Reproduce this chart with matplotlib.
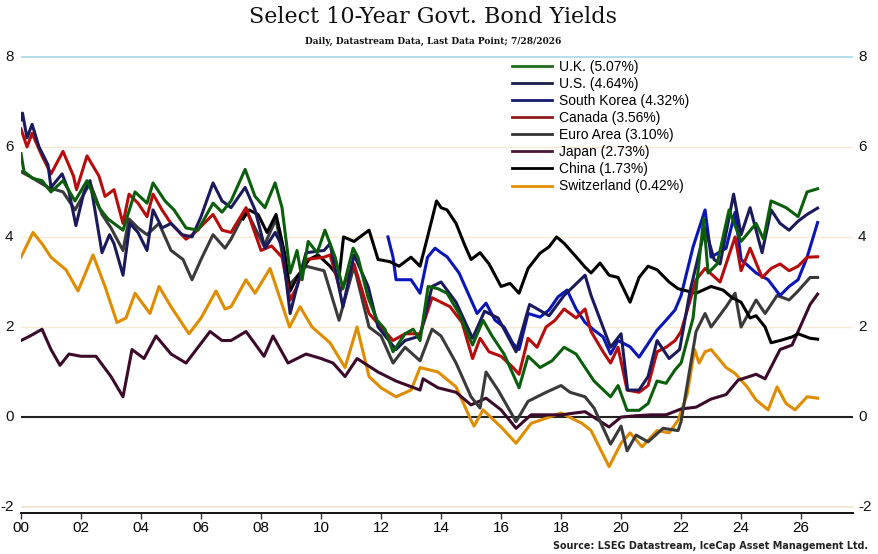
import matplotlib
matplotlib.use("Agg")
import matplotlib.pyplot as plt
from matplotlib.lines import Line2D

# ---------------- data (decimal years, % yields) ----------------
us_t = [2000.0, 2000.05, 2000.2, 2000.37, 2000.6, 2000.9, 2001.0, 2001.37, 2001.6, 2001.83, 2002.1, 2002.3,
        2002.7, 2002.95, 2003.1, 2003.4, 2003.63, 2003.9, 2004.2, 2004.4, 2004.7, 2005.0, 2005.37, 2005.7,
        2006.0, 2006.4, 2006.7, 2007.0, 2007.47, 2007.8, 2008.13, 2008.47, 2008.7, 2008.97, 2009.2, 2009.5,
        2010.1, 2010.3, 2010.73, 2011.1, 2011.57, 2011.9, 2012.5, 2012.8, 2013.3, 2013.7, 2014.0, 2014.5,
        2015.05, 2015.45, 2015.9, 2016.5, 2016.95, 2017.6, 2018.1, 2018.8, 2019.0, 2019.65, 2020.0, 2020.22,
        2020.6, 2020.9, 2021.2, 2021.6, 2021.95, 2022.3, 2022.8, 2023.1, 2023.3, 2023.75, 2024.0, 2024.3,
        2024.7, 2025.0, 2025.3, 2025.6, 2025.9, 2026.2, 2026.55]
us_v = [6.6, 6.75, 6.2, 6.5, 6.0, 5.6, 5.1, 5.4, 5.0, 4.25, 5.0, 5.25,
        3.65, 4.05, 3.85, 3.15, 4.3, 4.1, 3.7, 4.6, 4.2, 4.3, 4.05, 4.0,
        4.45, 5.2, 4.8, 4.65, 5.1, 4.6, 3.75, 4.1, 3.8, 2.3, 2.9, 3.65,
        3.7, 3.85, 2.45, 3.6, 2.9, 2.0, 1.5, 1.7, 1.8, 2.9, 3.0, 2.55,
        1.75, 2.35, 2.2, 1.45, 2.5, 2.25, 2.7, 3.15, 2.7, 1.55, 1.85, 0.6,
        0.6, 0.9, 1.7, 1.3, 1.5, 2.8, 4.2, 3.5, 3.4, 4.95, 4.05, 4.65,
        3.65, 4.6, 4.3, 4.15, 4.35, 4.5, 4.64]

uk_t = [2000.0, 2000.1, 2000.4, 2000.7, 2001.0, 2001.4, 2001.8, 2002.2, 2002.6, 2002.9, 2003.4, 2003.8,
        2004.2, 2004.4, 2004.8, 2005.1, 2005.5, 2005.9, 2006.4, 2006.7, 2007.0, 2007.47, 2007.8, 2008.13,
        2008.47, 2008.7, 2008.97, 2009.2, 2009.37, 2009.57, 2009.87, 2010.13, 2010.47, 2010.73, 2011.07,
        2011.23, 2011.57, 2011.87, 2012.13, 2012.4, 2012.8, 2013.07, 2013.3, 2013.57, 2013.9, 2014.2,
        2014.6, 2015.05, 2015.4, 2015.7, 2016.1, 2016.4, 2016.6, 2016.9, 2017.3, 2017.7, 2018.1, 2018.5,
        2018.8, 2019.1, 2019.65, 2019.9, 2020.2, 2020.6, 2020.9, 2021.2, 2021.5, 2021.8, 2022.0, 2022.4,
        2022.75, 2022.9, 2023.2, 2023.6, 2024.0, 2024.5, 2024.75, 2025.0, 2025.5, 2025.9, 2026.2, 2026.55]
uk_v = [5.85, 5.45, 5.3, 5.25, 5.0, 5.25, 4.8, 5.25, 4.65, 4.4, 4.15, 5.0,
        4.75, 5.2, 4.8, 4.6, 4.2, 4.15, 4.75, 4.55, 4.8, 5.5, 4.9, 4.65,
        5.2, 4.65, 3.2, 3.7, 3.05, 3.9, 3.65, 4.15, 3.55, 2.85, 3.75,
        3.55, 2.65, 2.15, 1.95, 1.45, 1.85, 1.95, 1.7, 2.9, 2.85, 2.75,
        2.3, 1.6, 2.15, 1.8, 1.4, 0.95, 0.65, 1.35, 1.1, 1.25, 1.55, 1.4,
        1.1, 0.8, 0.45, 0.7, 0.15, 0.15, 0.3, 0.8, 0.75, 1.05, 1.2, 2.2,
        4.4, 3.2, 3.4, 4.6, 3.9, 4.3, 3.95, 4.8, 4.65, 4.45, 5.0, 5.07]

kr_t = [2012.23, 2012.4, 2012.5, 2013.0, 2013.3, 2013.55, 2013.8, 2014.0, 2014.2, 2014.6, 2014.9, 2015.2,
        2015.5, 2015.8, 2016.1, 2016.4, 2016.6, 2016.9, 2017.3, 2017.6, 2017.9, 2018.2, 2018.5, 2018.8,
        2019.1, 2019.4, 2019.65, 2019.9, 2020.3, 2020.6, 2020.9, 2021.2, 2021.5, 2021.8, 2022.0, 2022.4,
        2022.8, 2023.0, 2023.5, 2023.8, 2024.0, 2024.5, 2024.9, 2025.3, 2025.6, 2025.9, 2026.2, 2026.55]
kr_v = [4.0, 3.55, 3.05, 3.05, 2.75, 3.55, 3.75, 3.65, 3.56, 3.2, 2.75, 2.3,
        2.53, 2.15, 2.0, 1.63, 1.5, 2.3, 2.22, 2.38, 2.67, 2.82, 2.4, 2.1,
        1.93, 1.78, 1.4, 1.7, 1.56, 1.33, 1.63, 1.93, 2.15, 2.38, 2.7, 3.78,
        4.6, 3.55, 3.75, 4.55, 3.5, 3.2, 3.05, 2.7, 2.9, 3.05, 3.55, 4.32]

ca_t = [2000.0, 2000.2, 2000.37, 2000.7, 2001.0, 2001.4, 2001.75, 2001.85, 2002.2, 2002.6, 2002.8, 2003.1,
        2003.4, 2003.6, 2003.9, 2004.2, 2004.4, 2004.7, 2005.0, 2005.5, 2005.8, 2006.4, 2006.7, 2007.0,
        2007.5, 2008.0, 2008.35, 2008.7, 2008.97, 2009.2, 2009.5, 2010.1, 2010.3, 2010.65, 2011.1, 2011.6,
        2012.0, 2012.4, 2012.8, 2013.3, 2013.7, 2014.0, 2014.3, 2014.7, 2015.05, 2015.3, 2015.6, 2016.0,
        2016.4, 2016.6, 2016.9, 2017.2, 2017.5, 2017.8, 2018.1, 2018.5, 2018.8, 2019.0, 2019.4, 2019.65,
        2019.9, 2020.2, 2020.6, 2020.9, 2021.2, 2021.5, 2021.8, 2022.0, 2022.5, 2022.8, 2023.3, 2023.8,
        2024.0, 2024.3, 2024.7, 2025.0, 2025.3, 2025.6, 2025.9, 2026.2, 2026.55]
ca_v = [6.4, 6.0, 6.3, 5.8, 5.4, 5.9, 5.35, 5.05, 5.8, 5.35, 4.9, 5.05,
        4.3, 4.95, 4.75, 4.45, 4.95, 4.6, 4.3, 3.95, 4.1, 4.5, 4.15, 4.1,
        4.65, 3.7, 3.8, 3.55, 2.6, 2.9, 3.5, 3.55, 3.6, 2.8, 3.4, 2.3,
        2.0, 1.7, 1.85, 1.85, 2.65, 2.55, 2.45, 2.1, 1.3, 1.75, 1.45, 1.35,
        1.1, 0.95, 1.75, 1.55, 2.0, 2.15, 2.4, 2.2, 2.4, 1.9, 1.45, 1.2,
        1.55, 0.6, 0.55, 0.7, 1.45, 1.55, 1.7, 1.9, 3.05, 3.3, 3.0, 4.0,
        3.25, 3.75, 3.1, 3.3, 3.4, 3.25, 3.35, 3.55, 3.56]

eu_t = [2000.0, 2000.4, 2000.9, 2001.4, 2001.8, 2002.3, 2002.7, 2003.0, 2003.4, 2003.6, 2003.9, 2004.2,
        2004.6, 2005.0, 2005.4, 2005.7, 2006.0, 2006.4, 2006.8, 2007.0, 2007.5, 2008.1, 2008.5, 2008.9,
        2009.5, 2010.1, 2010.6, 2011.1, 2011.6, 2012.0, 2012.4, 2012.8, 2013.3, 2013.7, 2014.0, 2014.5,
        2015.0, 2015.3, 2015.5, 2015.9, 2016.5, 2016.9, 2017.5, 2018.0, 2018.3, 2018.8, 2019.1, 2019.65,
        2020.0, 2020.2, 2020.5, 2020.9, 2021.4, 2021.9, 2022.0, 2022.5, 2022.8, 2023.0, 2023.5, 2023.8,
        2024.0, 2024.5, 2024.8, 2025.2, 2025.6, 2025.9, 2026.3, 2026.55]
eu_v = [5.45, 5.3, 5.1, 5.0, 4.6, 5.2, 4.5, 4.2, 3.7, 4.4, 4.2, 4.05,
        4.3, 3.7, 3.5, 3.05, 3.5, 4.05, 3.75, 3.95, 4.6, 3.8, 4.4, 2.9,
        3.35, 3.25, 2.15, 3.35, 2.0, 1.8, 1.2, 1.55, 1.25, 1.95, 1.8, 1.2,
        0.45, 0.2, 1.0, 0.6, -0.1, 0.35, 0.55, 0.7, 0.55, 0.45, 0.2, -0.6,
        -0.2, -0.75, -0.4, -0.55, -0.25, -0.3, -0.1, 1.9, 2.3, 2.0, 2.45, 2.75,
        2.0, 2.6, 2.3, 2.7, 2.6, 2.8, 3.1, 3.10]

jp_t = [2000.0, 2000.3, 2000.7, 2001.0, 2001.3, 2001.6, 2002.0, 2002.5, 2003.0, 2003.4, 2003.7, 2004.1,
        2004.5, 2005.0, 2005.5, 2006.3, 2006.7, 2007.0, 2007.5, 2008.1, 2008.4, 2008.9, 2009.5, 2010.0,
        2010.4, 2010.8, 2011.2, 2011.9, 2012.5, 2013.3, 2013.4, 2013.9, 2014.5, 2015.0, 2015.5, 2016.0,
        2016.5, 2017.0, 2018.0, 2018.8, 2019.6, 2020.0, 2020.5, 2021.0, 2021.5, 2022.0, 2022.5, 2023.0,
        2023.5, 2023.9, 2024.5, 2024.8, 2025.3, 2025.7, 2026.0, 2026.3, 2026.55]
jp_v = [1.7, 1.8, 1.95, 1.5, 1.15, 1.4, 1.35, 1.35, 0.9, 0.45, 1.5, 1.3,
        1.8, 1.4, 1.2, 1.9, 1.7, 1.7, 1.9, 1.35, 1.8, 1.2, 1.4, 1.3,
        1.2, 0.9, 1.3, 1.0, 0.8, 0.6, 0.85, 0.65, 0.55, 0.27, 0.42, 0.16,
        -0.25, 0.05, 0.05, 0.12, -0.22, 0.0, 0.03, 0.05, 0.05, 0.18, 0.22, 0.4,
        0.5, 0.82, 0.95, 0.85, 1.5, 1.6, 2.05, 2.5, 2.73]

cn_t = [2007.4, 2007.6, 2007.9, 2008.2, 2008.5, 2008.8, 2008.97, 2009.2, 2009.6, 2009.9, 2010.3, 2010.6,
        2010.75, 2011.1, 2011.6, 2011.9, 2012.3, 2012.6, 2013.0, 2013.3, 2013.55, 2013.85, 2014.0, 2014.2,
        2014.5, 2014.8, 2015.0, 2015.3, 2015.6, 2016.0, 2016.3, 2016.6, 2016.9, 2017.3, 2017.6, 2017.85,
        2018.1, 2018.5, 2018.8, 2019.0, 2019.3, 2019.6, 2019.9, 2020.3, 2020.6, 2020.9, 2021.2, 2021.6,
        2021.9, 2022.5, 2023.0, 2023.4, 2023.7, 2024.0, 2024.3, 2024.5, 2024.8, 2025.0, 2025.3, 2025.7,
        2025.9, 2026.3, 2026.55]
cn_v = [4.4, 4.6, 4.5, 4.1, 4.5, 3.6, 2.8, 3.1, 3.5, 3.6, 3.35, 3.1,
        4.0, 3.9, 4.15, 3.5, 3.45, 3.35, 3.55, 3.35, 4.0, 4.8, 4.65, 4.6,
        4.3, 3.8, 3.5, 3.65, 3.4, 2.9, 2.97, 2.75, 3.3, 3.64, 3.78, 4.0,
        3.86, 3.56, 3.33, 3.2, 3.42, 3.15, 3.1, 2.55, 3.1, 3.35, 3.27, 3.0,
        2.85, 2.75, 2.9, 2.82, 2.65, 2.55, 2.2, 2.25, 2.0, 1.65, 1.7, 1.78,
        1.85, 1.75, 1.73]

ch_t = [2000.0, 2000.4, 2000.7, 2001.0, 2001.5, 2001.9, 2002.4, 2002.8, 2003.2, 2003.5, 2003.8, 2004.3,
        2004.6, 2005.0, 2005.6, 2006.0, 2006.5, 2006.8, 2007.0, 2007.5, 2007.8, 2008.3, 2008.6, 2008.95,
        2009.3, 2009.7, 2010.3, 2010.8, 2011.2, 2011.6, 2012.0, 2012.5, 2013.0, 2013.3, 2013.9, 2014.5,
        2015.0, 2015.1, 2015.4, 2016.0, 2016.5, 2017.0, 2018.0, 2018.7, 2019.0, 2019.6, 2020.0, 2020.3,
        2020.7, 2021.2, 2021.6, 2021.9, 2022.2, 2022.45, 2022.6, 2022.8, 2023.0, 2023.5, 2023.8, 2024.2,
        2024.5, 2024.9, 2025.2, 2025.5, 2025.8, 2026.2, 2026.55]
ch_v = [3.55, 4.1, 3.85, 3.55, 3.27, 2.8, 3.6, 2.9, 2.1, 2.2, 2.75, 2.3,
        2.9, 2.45, 1.85, 2.2, 2.8, 2.4, 2.45, 3.05, 2.75, 3.3, 2.7, 2.0,
        2.45, 2.0, 1.65, 1.1, 2.0, 0.9, 0.65, 0.45, 0.6, 1.1, 1.0, 0.67,
        -0.07, -0.2, 0.16, -0.22, -0.58, -0.14, 0.09, -0.14, -0.3, -1.1, -0.58, -0.35,
        -0.66, -0.3, -0.35, -0.07, 0.5, 1.5, 1.2, 1.45, 1.5, 1.1, 0.97, 0.67,
        0.38, 0.16, 0.67, 0.3, 0.16, 0.45, 0.42]

labels = ["U.K. (5.07%)", "U.S. (4.64%)", "South Korea (4.32%)", "Canada (3.56%)",
          "Euro Area (3.10%)", "Japan (2.73%)", "China (1.73%)", "Switzerland (0.42%)"]
line_colors = ["#0b5e0b", "#1a1a5c", "#0a16b8", "#b80c0c", "#3a3a3a", "#3c0a2a", "#000000", "#e08c00"]
legend_colors = ["#1f6b1f", "#1a1f4a", "#121c6a", "#8e1c1c", "#333333", "#4a1535", "#000000", "#e09000"]
years = [2000, 2002, 2004, 2006, 2008, 2010, 2012, 2014, 2016, 2018, 2020, 2022, 2024, 2026]
year_labels = ["00", "02", "04", "06", "08", "10", "12", "14", "16", "18", "20", "22", "24", "26"]
yticks = [-2, 0, 2, 4, 6, 8]

series = [(uk_t, uk_v), (us_t, us_v), (kr_t, kr_v), (ca_t, ca_v),
          (eu_t, eu_v), (jp_t, jp_v), (cn_t, cn_v), (ch_t, ch_v)]
zorders = [9, 8, 6, 7, 5, 4, 6.5, 3]

# ---------------- figure ----------------
W, H = 879, 554
fig = plt.figure(figsize=(W / 100, H / 100), dpi=100)
fig.patch.set_facecolor("white")
ax = fig.add_axes([21 / W, 1 - 513 / H, (853 - 21) / W, (513 - 55) / H])
ax.set_facecolor("white")

# grid lines
ax.axhline(8, color="#a6d8e6", lw=1.2, zorder=1)
for g in [2, 4, 6]:
    ax.axhline(g, color="#f6ead2", lw=1.0, zorder=1)
ax.axhline(-2, color="#efe5cc", lw=1.2, zorder=1)
ax.axhline(0, color="#222222", lw=1.5, zorder=2)

for (t, v), c, z in zip(series, line_colors, zorders):
    ax.plot(t, v, color=c, lw=2.2, zorder=z, solid_joinstyle="round")

ax.set_xlim(2000.0, 2027.73)
ax.set_ylim(-2.13, 8.04)

for s in ["top", "left", "right"]:
    ax.spines[s].set_visible(False)
ax.spines["bottom"].set_color("#111111")
ax.spines["bottom"].set_linewidth(1.4)

ax.set_xticks(years)
ax.set_xticklabels(year_labels, fontsize=11, family="Liberation Sans")
ax.tick_params(axis="x", direction="out", length=4, width=1, color="#333333", pad=2)
ax.set_yticks([])

# y labels both sides
for y in yticks:
    ax.text(-0.009, y, str(y), transform=ax.get_yaxis_transform(), ha="right", va="center",
            fontsize=11, family="Liberation Sans", color="#111111")
    ax.text(1.006, y, str(y), transform=ax.get_yaxis_transform(), ha="left", va="center",
            fontsize=11, family="Liberation Sans", color="#111111")

# legend
leg_handles = [Line2D([0], [0], color=c, lw=2) for c in legend_colors]
fig.legend(leg_handles, labels, loc="upper left", bbox_to_anchor=(512 / W, 1 - 60 / H),
           frameon=False, prop={"family": "Liberation Sans", "size": 10},
           handlelength=2.9, handletextpad=0.5, labelspacing=0.22, borderpad=0, borderaxespad=0)

# titles
fig.text(433 / W, 1 - 17 / H, "Select 10-Year Govt. Bond Yields", ha="center", va="center",
         fontsize=16, family="DejaVu Serif", color="#111111")
fig.text(433 / W, 1 - 41 / H, "Daily, Datastream Data, Last Data Point; 7/28/2026", ha="center",
         va="center", fontsize=6.5, family="DejaVu Serif", weight="bold", color="#111111")
fig.text(868 / W, 1 - 546 / H, "Source: LSEG Datastream, IceCap Asset Management Ltd.", ha="right",
         va="center", fontsize=6.9, family="DejaVu Sans", weight="bold", color="#222222")

fig.savefig("out.png", dpi=100, facecolor="white")
